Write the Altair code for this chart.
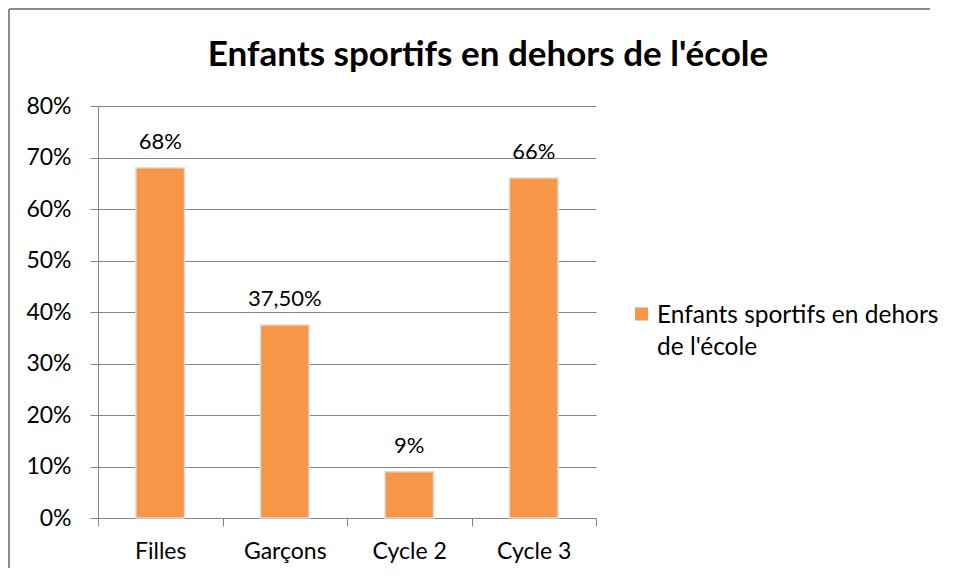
import altair as alt
import pandas as pd

categories = ["Filles", "Garçons", "Cycle 2", "Cycle 3"]
values = [0.68, 0.375, 0.09, 0.66]
value_labels = ["68%", "37,50%", "9%", "66%"]
series_name = "Enfants sportifs en dehors de l'école"
legend_lines = [series_name[:26], series_name[27:]]
y_ticks = [0, 0.1, 0.2, 0.3, 0.4, 0.5, 0.6, 0.7, 0.8]

FONT = "Lato"
GRAY = "#868686"
ORANGE = "#F79646"

df = pd.DataFrame({"cat": categories, "val": values, "lab": value_labels, "series": series_name})
frame_df = pd.DataFrame({"k": [0]})
legend_df = pd.DataFrame({"series": [series_name]})

color_scale = alt.Scale(domain=[series_name], range=[ORANGE])

x = alt.X(
    "cat:N", sort=categories, title=None,
    scale=alt.Scale(paddingInner=0, paddingOuter=0),
    axis=alt.Axis(labelAngle=0, tickBand="extent", domainColor=GRAY, tickColor=GRAY,
                  tickSize=8, labelFontSize=23, labelPadding=14, labelColor="black",
                  labelFont=FONT, grid=False),
)
y = alt.Y(
    "val:Q", title=None,
    scale=alt.Scale(domain=[0, 0.8], nice=False),
    axis=alt.Axis(values=y_ticks, format=".0%", domainColor=GRAY, tickColor=GRAY,
                  tickSize=8, labelFontSize=23, labelPadding=19, labelColor="black",
                  labelFont=FONT, grid=True, gridColor=GRAY),
)

bars = alt.Chart(df).mark_bar(
    width=alt.RelativeBandSize(0.39), stroke="#dcdcdc", strokeWidth=1.5
).encode(
    x=x, y=y,
    color=alt.Color("series:N", scale=color_scale, legend=None),
)

labels = alt.Chart(df).mark_text(
    dy=-14, baseline="bottom", font=FONT, fontSize=22, color="black"
).encode(x=x, y=y, text="lab:N")

legend_symbol = alt.Chart(legend_df).mark_square(size=169, opacity=1).encode(
    x=alt.value(543.5), y=alt.value(208),
    color=alt.Color("series:N", scale=color_scale, legend=None),
)
legend_text = alt.Chart(legend_df).mark_text(
    text=legend_lines, align="left", baseline="alphabetic", lineHeight=32,
    font=FONT, fontSize=24.5, color="black",
).encode(x=alt.value(559), y=alt.value(217))

left_border = alt.Chart(frame_df).mark_rule(color="#8c8c8c", strokeWidth=2).encode(
    x=alt.value(-89), y=alt.value(-97), y2=alt.value(462)
)
top_border = alt.Chart(frame_df).mark_rule(color="#8c8c8c", strokeWidth=2).encode(
    x=alt.value(-89), x2=alt.value(832), y=alt.value(-97), y2=alt.value(-97)
)

chart = alt.layer(left_border, top_border, bars, labels, legend_symbol, legend_text).properties(
    width=498, height=412, padding=0, background="white",
    title=alt.TitleParams(
        text=series_name, font=FONT, fontSize=35, fontWeight="bold", color="black",
        anchor="middle", frame="group", dx=141, offset=-65,
    ),
).configure_view(stroke=None)

chart.save("out.html", embed_options={"renderer": "svg", "actions": False})
